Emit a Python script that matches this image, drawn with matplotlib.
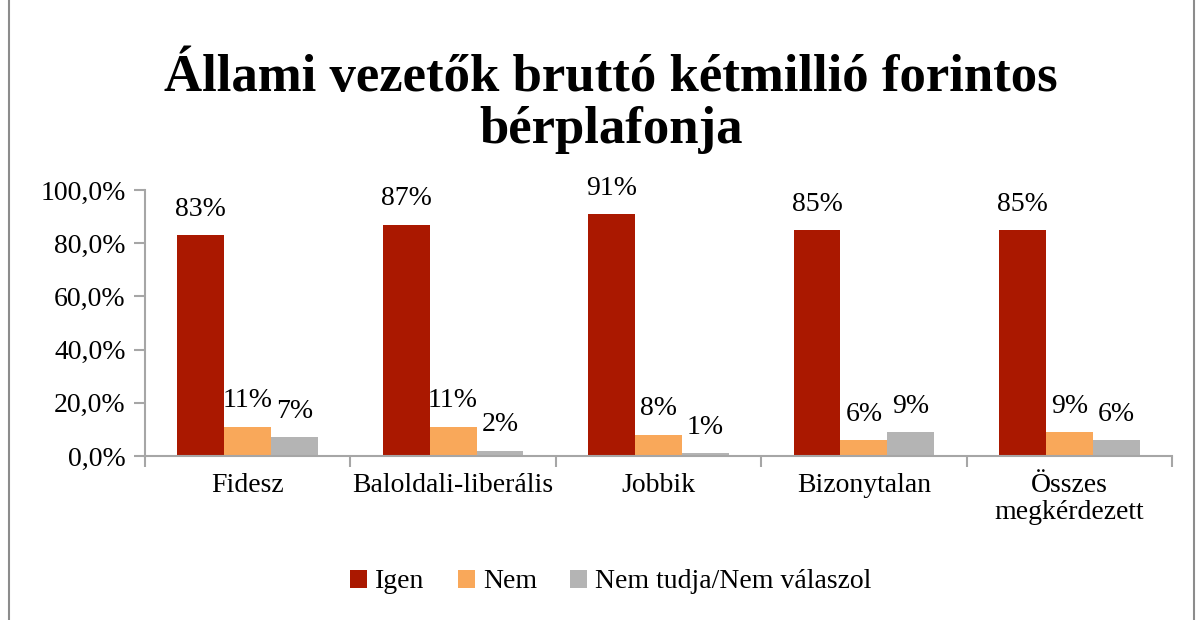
import numpy as np
import matplotlib.pyplot as plt
from matplotlib.patches import Rectangle
from matplotlib.ticker import FuncFormatter

categories = ["Fidesz", "Baloldali-liberális", "Jobbik", "Bizonytalan", "Összes\nmegkérdezett"]
series_names = ["Igen", "Nem", "Nem tudja/Nem válaszol"]
igen = [83, 87, 91, 85, 85]
nem = [11, 11, 8, 6, 9]
nem_tudja = [7, 2, 1, 9, 6]
colors = ["#AA1800", "#F9A85A", "#B4B4B4"]

plt.rcParams['font.family'] = ['Liberation Serif', 'DejaVu Serif']

fig = plt.figure(figsize=(11.98, 6.2), dpi=100)
ax = fig.add_axes([145 / 1198, 1 - 456 / 620, 1027 / 1198, 266 / 620])

x = np.arange(len(categories))
w = 0.228
for i, (vals, c) in enumerate(zip([igen, nem, nem_tudja], colors)):
    pos = x + (i - 1) * w
    ax.bar(pos, vals, width=w, color=c, label=series_names[i], zorder=2)
    for p, v in zip(pos, vals):
        ax.text(p, v + 5, f"{v}%", ha="center", va="bottom", fontsize=20)

ax.set_ylim(0, 100)
ax.set_xlim(-0.5, len(categories) - 0.5)
ax.set_yticks(np.arange(0, 101, 20))
ax.yaxis.set_major_formatter(FuncFormatter(lambda v, _: f"{v:.1f}%".replace(".", ",")))
ax.set_xticks(np.arange(-0.5, len(categories), 1), minor=True)
ax.set_xticks(x)
ax.set_xticklabels(categories, fontsize=20, linespacing=1.1)
ax.tick_params(axis="x", which="major", length=0, pad=12)
ax.tick_params(axis="x", which="minor", length=8, color="#A6A6A6", width=1.5, direction="out")
ax.tick_params(axis="y", length=8, color="#A6A6A6", width=1.5, labelsize=20, pad=6)
for s in ["top", "right"]:
    ax.spines[s].set_visible(False)
for s in ["left", "bottom"]:
    ax.spines[s].set_color("#A6A6A6")
    ax.spines[s].set_linewidth(1.5)

fig.text(0.51, 1 - 104 / 620, "Állami vezetők bruttó kétmillió forintos\nbérplafonja",
         ha="center", va="center", fontsize=38, fontweight="bold", linespacing=1.12)

fig.legend(loc="center", bbox_to_anchor=(0.51, 1 - 582 / 620), ncol=3, frameon=False,
           fontsize=20, handlelength=0.6, handleheight=0.6, columnspacing=1.2, handletextpad=0.3)

fig.patches.append(Rectangle((9 / 1198, -0.01), 1185 / 1198, 1.02, transform=fig.transFigure,
                             fill=False, edgecolor="#8C8C8C", linewidth=1.5))

fig.savefig("out.png", dpi=100)
